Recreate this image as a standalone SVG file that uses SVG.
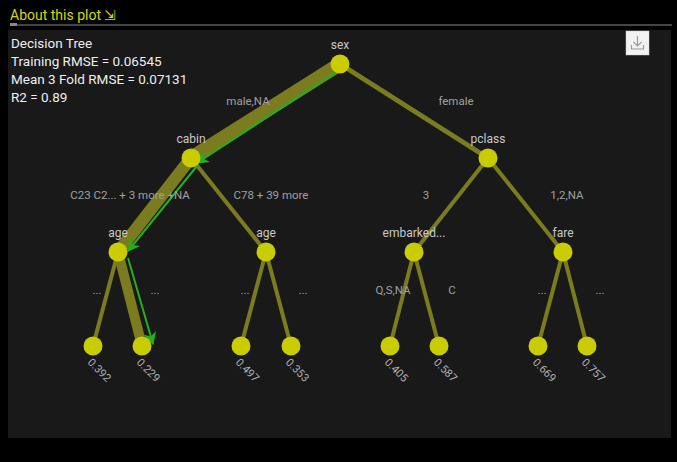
<svg xmlns="http://www.w3.org/2000/svg" width="677" height="462" viewBox="0 0 677 462">
<defs>
<style>
.nl{font-family:Roboto,"Liberation Sans",Arial,sans-serif;font-size:12px;fill:#c8c8c8;text-anchor:middle}
.el{font-family:Roboto,"Liberation Sans",Arial,sans-serif;font-size:11.5px;fill:#a0a0a0;text-anchor:middle}
.lv{font-family:Roboto,"Liberation Sans",Arial,sans-serif;font-size:11px;fill:#b0b0b0}
.st{font-family:Roboto,"Liberation Sans",Arial,sans-serif;font-size:13.5px;fill:#eeeeee}
.e{stroke:#7b7b1f;stroke-linecap:butt;fill:none}
.g{stroke:#22b022;stroke-width:2;fill:none;marker-end:url(#ah)}
.n{fill:#c9cc00}
</style>
<marker id="ah" viewBox="0 0 10 10" refX="9" refY="5" markerWidth="6.5" markerHeight="6.5" orient="auto" markerUnits="strokeWidth">
<path d="M0,0 L10,5 L0,10 L3,5 z" fill="#22b022"/>
</marker>
</defs>
<rect width="677" height="462" fill="#000"/>
<text x="10" y="20" font-family="Roboto,Liberation Sans,Arial,sans-serif" font-size="14" fill="#d4d800">About this plot ⇲</text>
<rect x="10" y="24" width="662" height="2" fill="#444"/>
<rect x="10" y="23" width="7" height="3" fill="#888"/>
<rect x="8" y="30" width="663" height="408" fill="#191919"/>
<g id="download">
<rect x="626" y="31" width="23" height="24" fill="#f2f2f2" stroke="#ccc" stroke-width="0.5"/>
<path d="M637.5 36 v10 M633.5 42 l4 4 l4 -4 M631.5 45 v4 h12 v-4" stroke="#999" stroke-width="1.2" fill="none"/>
</g>
<g id="stats">
<text class="st" x="11" y="48">Decision Tree</text>
<text class="st" x="11" y="66">Training RMSE = 0.06545</text>
<text class="st" x="11" y="84">Mean 3 Fold RMSE = 0.07131</text>
<text class="st" x="11" y="102">R2 = 0.89</text>
</g>
<g id="connectors">
<line class="e" x1="340" y1="64" x2="191" y2="158" stroke-width="14"/>
<line class="e" x1="340" y1="64" x2="488" y2="158" stroke-width="5"/>
<line class="e" x1="191" y1="158" x2="118" y2="252" stroke-width="12"/>
<line class="e" x1="191" y1="158" x2="266" y2="252" stroke-width="4"/>
<line class="e" x1="488" y1="158" x2="414" y2="252" stroke-width="4"/>
<line class="e" x1="488" y1="158" x2="563" y2="252" stroke-width="4"/>
<line class="e" x1="118" y1="252" x2="93" y2="346" stroke-width="4"/>
<line class="e" x1="118" y1="252" x2="142" y2="346" stroke-width="10"/>
<line class="e" x1="266" y1="252" x2="241" y2="346" stroke-width="4"/>
<line class="e" x1="266" y1="252" x2="291" y2="346" stroke-width="4"/>
<line class="e" x1="414" y1="252" x2="390" y2="346" stroke-width="4"/>
<line class="e" x1="414" y1="252" x2="439" y2="346" stroke-width="4"/>
<line class="e" x1="563" y1="252" x2="538" y2="346" stroke-width="4"/>
<line class="e" x1="563" y1="252" x2="587" y2="346" stroke-width="4"/>
<line class="g" x1="338" y1="71" x2="197" y2="163"/>
<line class="g" x1="197" y1="166" x2="128" y2="251"/>
<line class="g" x1="128" y1="258" x2="153" y2="344"/>
<text class="el" x="248" y="105">male,NA</text>
<text class="el" x="456" y="105">female</text>
<text class="el" x="130" y="199">C23 C2... + 3 more +NA</text>
<text class="el" x="271" y="199">C78 + 39 more</text>
<text class="el" x="426" y="199">3</text>
<text class="el" x="567" y="199">1,2,NA</text>
<text class="el" x="97" y="294">...</text>
<text class="el" x="155" y="294">...</text>
<text class="el" x="245" y="294">...</text>
<text class="el" x="303" y="294">...</text>
<text class="el" x="393" y="294">Q,S,NA</text>
<text class="el" x="452" y="294">C</text>
<text class="el" x="542" y="294">...</text>
<text class="el" x="600" y="294">...</text>
</g>
<g id="n-sex"><circle class="n" cx="340" cy="64" r="9.5"/><text class="nl" x="340" y="49">sex</text></g>
<g id="n-cabin"><circle class="n" cx="191" cy="158" r="9.5"/><text class="nl" x="191" y="143">cabin</text></g>
<g id="n-pclass"><circle class="n" cx="488" cy="158" r="9.5"/><text class="nl" x="488" y="143">pclass</text></g>
<g id="n-age1"><circle class="n" cx="118" cy="252" r="9.5"/><text class="nl" x="118" y="237">age</text></g>
<g id="n-age2"><circle class="n" cx="266" cy="252" r="9.5"/><text class="nl" x="266" y="237">age</text></g>
<g id="n-embarked"><circle class="n" cx="414" cy="252" r="9.5"/><text class="nl" x="414" y="237">embarked...</text></g>
<g id="n-fare"><circle class="n" cx="563" cy="252" r="9.5"/><text class="nl" x="563" y="237">fare</text></g>
<g id="l1"><circle class="n" cx="93" cy="346" r="9.5"/><text class="lv" transform="translate(87,363) rotate(45)">0.392</text></g>
<g id="l2"><circle class="n" cx="142" cy="346" r="9.5"/><text class="lv" transform="translate(136,363) rotate(45)">0.229</text></g>
<g id="l3"><circle class="n" cx="241" cy="346" r="9.5"/><text class="lv" transform="translate(235,363) rotate(45)">0.497</text></g>
<g id="l4"><circle class="n" cx="291" cy="346" r="9.5"/><text class="lv" transform="translate(285,363) rotate(45)">0.353</text></g>
<g id="l5"><circle class="n" cx="390" cy="346" r="9.5"/><text class="lv" transform="translate(384,363) rotate(45)">0.405</text></g>
<g id="l6"><circle class="n" cx="439" cy="346" r="9.5"/><text class="lv" transform="translate(433,363) rotate(45)">0.587</text></g>
<g id="l7"><circle class="n" cx="538" cy="346" r="9.5"/><text class="lv" transform="translate(532,363) rotate(45)">0.669</text></g>
<g id="l8"><circle class="n" cx="587" cy="346" r="9.5"/><text class="lv" transform="translate(581,363) rotate(45)">0.757</text></g>
</svg>
